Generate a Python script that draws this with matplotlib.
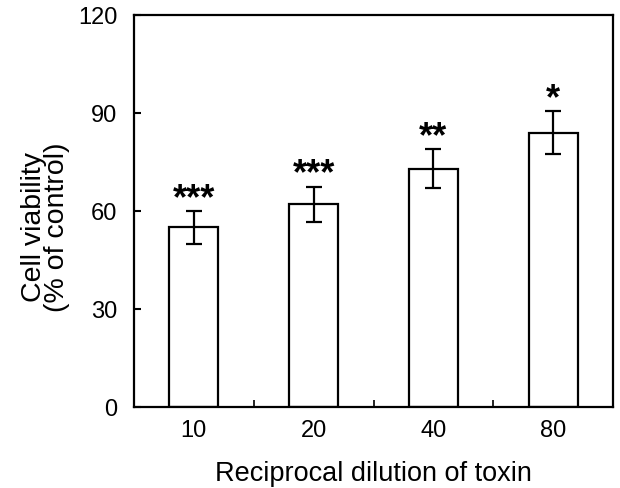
import matplotlib
matplotlib.use("Agg")
import matplotlib.pyplot as plt
import numpy as np

dilutions = ["10", "20", "40", "80"]
viability = [55, 62, 73, 84]
sem = [5, 5.5, 6, 6.5]
stars = ["***", "***", "**", "*"]
y_ticks = [0, 30, 60, 90, 120]

plt.rcParams["font.family"] = ["Liberation Sans", "DejaVu Sans"]

fig = plt.figure(figsize=(6.2, 4.89), dpi=100)
ax = fig.add_axes([134 / 620, 1 - 408 / 489, (613 - 134) / 620, (408 - 16) / 489])

x = np.arange(1, len(dilutions) + 1)
ax.bar(x, viability, width=0.41, color="white", edgecolor="black", linewidth=1.6, zorder=2)
ax.errorbar(x, viability, yerr=sem, fmt="none", ecolor="black", elinewidth=1.6,
            capsize=5.5, capthick=1.6, zorder=3)
for xi, v, e, s in zip(x, viability, sem, stars):
    ax.text(xi, v + e - 1.5, s, ha="center", va="bottom", fontsize=26,
            fontweight="bold", linespacing=1.0)

ax.set_xlim(0.5, 4.5)
ax.set_ylim(0, 120)
ax.set_yticks(y_ticks)
ax.set_xticks(x)
ax.set_xticklabels(dilutions)
ax.set_xticks(x[:-1] + 0.5, minor=True)
ax.tick_params(axis="x", which="major", length=0, labelsize=17, pad=9)
ax.tick_params(axis="x", which="minor", direction="in", length=5, width=1.2)
ax.tick_params(axis="y", direction="in", length=5, width=1.5, labelsize=17, pad=12)
for sp in ax.spines.values():
    sp.set_linewidth(1.6)

ax.set_xlabel("Reciprocal dilution of toxin", fontsize=19.5, labelpad=13)
ax.set_ylabel("Cell viability\n(% of control)", fontsize=20.5, linespacing=0.85)
ax.yaxis.set_label_coords(-0.134, 0.462)

fig.savefig("out.png", dpi=100)
